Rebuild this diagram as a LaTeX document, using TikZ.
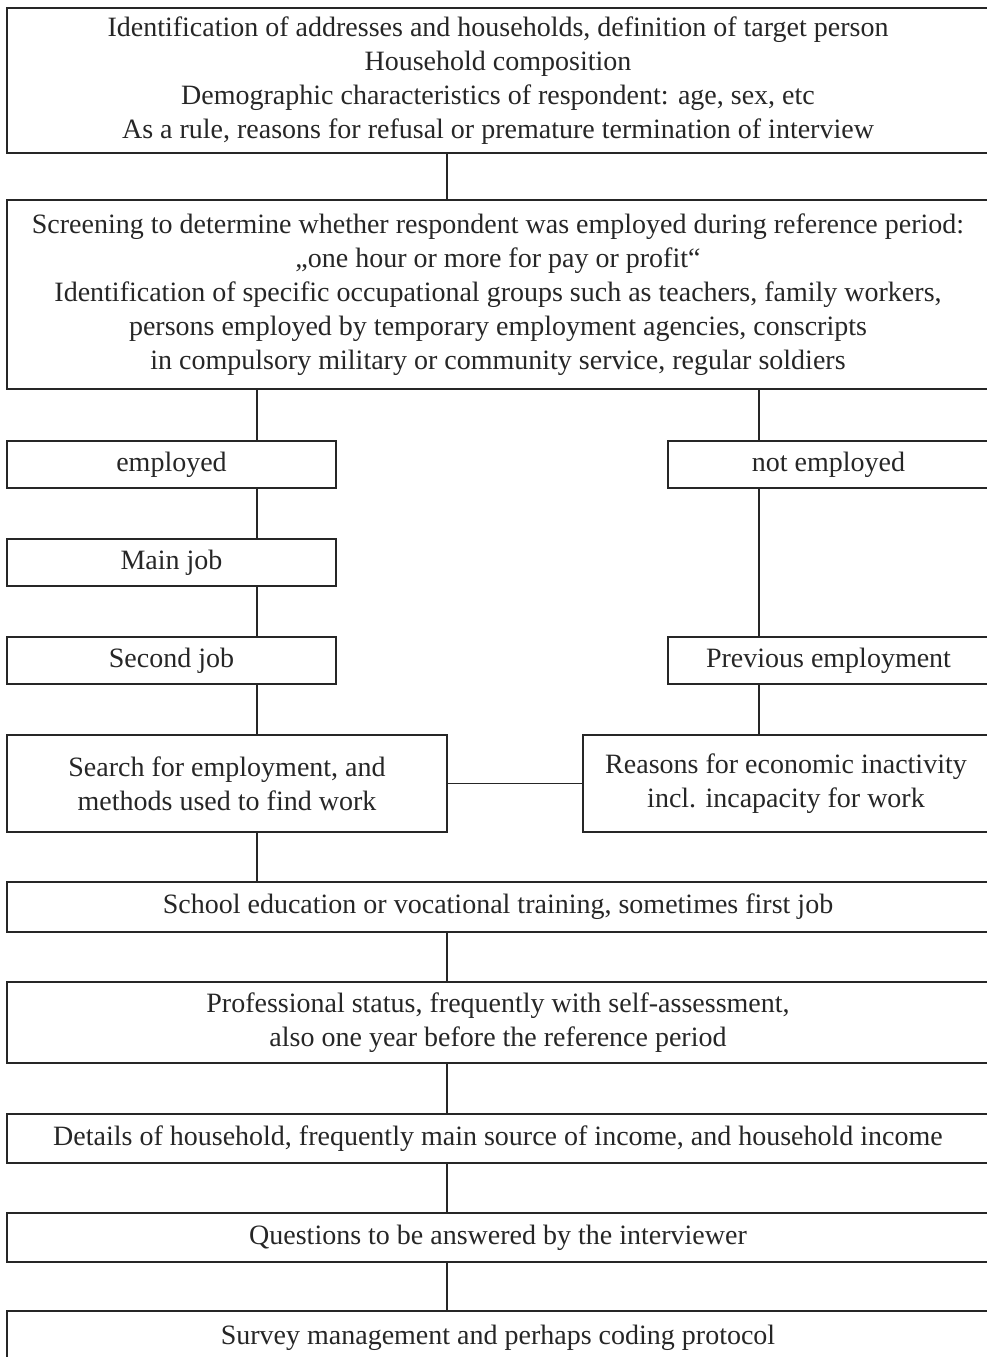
\documentclass[tikz,border=0pt]{standalone}
\usepackage{fontspec}
\setmainfont{Liberation Serif}
\tikzset{
  box/.style={draw, align=center, inner sep=0pt, font=\fontsize{28}{34}\selectfont},
  wide/.style={box, minimum width=982pt}
}
\begin{document}
\begin{tikzpicture}[x=1pt, y=-1pt, line width=1.1pt, color=black!85]
\useasboundingbox (0,0) rectangle (986,1357);
%coordinate
    \coordinate (l) at (257,0); \coordinate (m) at (447,0); \coordinate (r) at (759,0);
%boxes
    \node[wide, minimum height=145pt] (top) at (498,80.5) {Identification of addresses and households, definition of target person\\ Household composition\\ Demographic characteristics of respondent: age, sex, etc\\ As a rule, reasons for refusal or premature termination of interview};
    \node[wide, minimum height=189pt] (scr) at (498,294.5) {Screening to determine whether respondent was employed during reference period:\\ „one hour or more for pay or profit“\\ Identification of specific occupational groups such as teachers, family workers,\\ persons employed by temporary employment agencies, conscripts\\ in compulsory military or community service, regular soldiers};
    \node[box, minimum width=329pt, minimum height=47pt] (emp) at (171.5,464.5) {employed};
    \node[box, minimum width=321pt, minimum height=47pt] (nemp) at (828.5,464.5) {not employed};
    \node[box, minimum width=329pt, minimum height=47pt] (main) at (171.5,562.5) {Main job};
    \node[box, minimum width=329pt, minimum height=47pt] (second) at (171.5,660.5) {Second job};
    \node[box, minimum width=321pt, minimum height=47pt] (prev) at (828.5,660.5) {Previous employment};
    \node[box, minimum width=440pt, minimum height=97pt] (search) at (227,783.5) {Search for employment, and\\ methods used to find work};
    \node[box, minimum width=406pt, minimum height=97pt] (reason) at (786,783.5) {Reasons for economic inactivity\\ incl. incapacity for work};
    \node[wide, minimum height=50pt] (school) at (498,907) {School education or vocational training, sometimes first job};
    \node[wide, minimum height=81pt] (prof) at (498,1022.5) {Professional status, frequently with self-assessment,\\ also one year before the reference period};
    \node[wide, minimum height=49pt] (hh) at (498,1138.5) {Details of household, frequently main source of income, and household income};
    \node[wide, minimum height=49pt] (quest) at (498,1237.5) {Questions to be answered by the interviewer};
    \node[wide, minimum height=54pt] (survey) at (498,1338) {Survey management and perhaps coding protocol};
%lines
    \draw (top.south -| m) -- (scr.north -| m);
    \draw (scr.south -| l) -- (emp.north -| l); \draw (scr.south -| r) -- (nemp.north -| r);
    \draw (emp.south -| l) -- (main.north -| l); \draw (main.south -| l) -- (second.north -| l);
    \draw (second.south -| l) -- (search.north -| l);
    \draw (nemp.south -| r) -- (prev.north -| r); \draw (prev.south -| r) -- (reason.north -| r);
    \draw (search.east) -- (reason.west);
    \draw (search.south -| l) -- (school.north -| l);
    \draw (school.south -| m) -- (prof.north -| m); \draw (prof.south -| m) -- (hh.north -| m);
    \draw (hh.south -| m) -- (quest.north -| m); \draw (quest.south -| m) -- (survey.north -| m);
\end{tikzpicture}
\end{document}
